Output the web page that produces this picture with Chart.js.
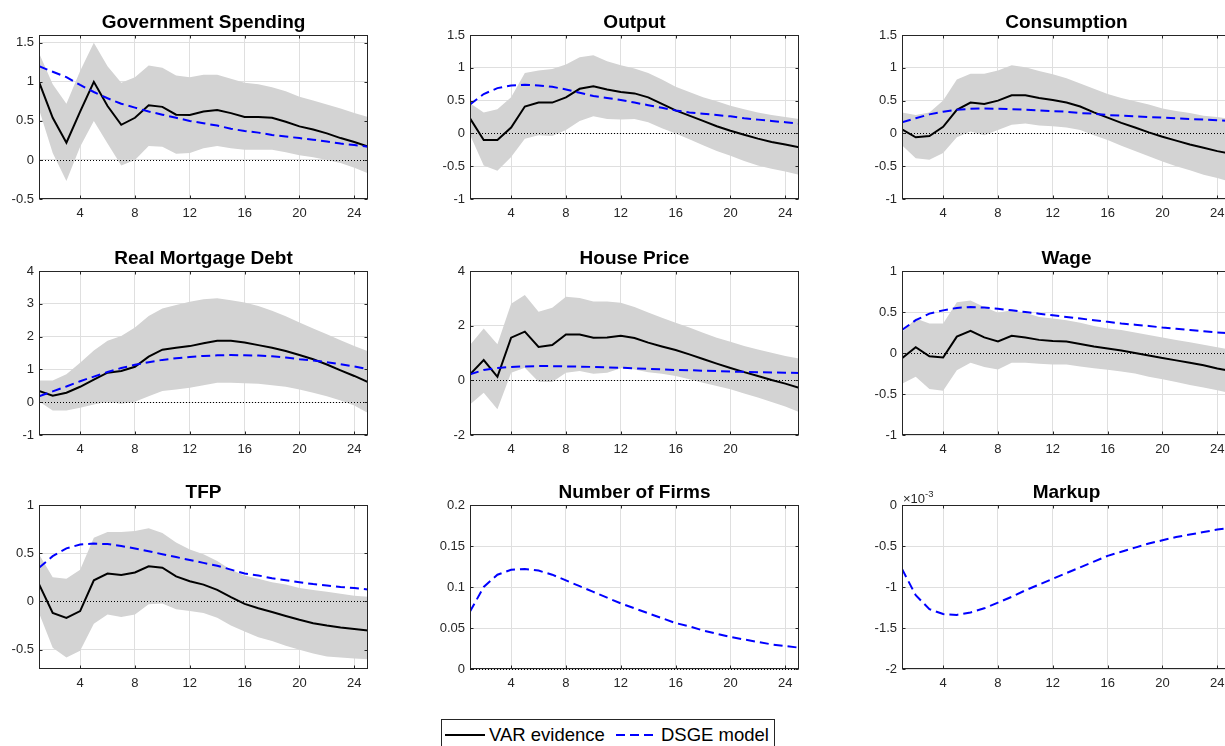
<!DOCTYPE html>
<html>
<head>
<meta charset="utf-8">
<script src="https://cdn.jsdelivr.net/npm/chart.js@4.4.1/dist/chart.umd.min.js"></script>
<style>
html,body{margin:0;padding:0;background:#fff;overflow:hidden;width:1225px;height:746px;position:relative;}
canvas{position:absolute;}
.lg{position:absolute;font-family:'Liberation Sans',Arial,Helvetica,sans-serif;font-size:18.5px;color:#000;line-height:22px;white-space:nowrap;}
#legbox{position:absolute;left:441px;top:719px;width:332px;height:40px;border:1px solid #262626;background:#fff;}
svg{position:absolute;}
</style>
</head>
<body>
<div id="legbox"></div>
<svg style="left:440px;top:725px" width="340" height="20">
  <line x1="5" y1="10" x2="45" y2="10" stroke="#000" stroke-width="2"/>
  <line x1="176" y1="10" x2="217" y2="10" stroke="#0000ff" stroke-width="2" stroke-dasharray="9,5"/>
</svg>
<div class="lg" style="left:489px;top:724px">VAR evidence</div>
<div class="lg" style="left:661px;top:724px">DSGE model</div>
<script>
// ---------- DATA ----------
const horizons = [1,2,3,4,5,6,7,8,9,10,11,12,13,14,15,16,17,18,19,20,21,22,23,24,25];
const xTicksStd = [4,8,12,16,20,24];
const xTicksHouse = [4,8,12,16,20];

const govVAR  = [1.0,0.54,0.22,0.62,1.0,0.69,0.45,0.54,0.70,0.68,0.58,0.575,0.62,0.64,0.60,0.55,0.55,0.54,0.49,0.43,0.39,0.34,0.28,0.23,0.17];
const govUp   = [1.37,0.97,0.72,1.14,1.5,1.2,0.99,1.06,1.21,1.18,1.08,1.06,1.09,1.09,1.04,0.99,0.97,0.93,0.88,0.81,0.76,0.71,0.66,0.60,0.55];
const govLo   = [0.65,0.09,-0.27,0.17,0.5,0.21,-0.07,0.0,0.18,0.17,0.08,0.09,0.15,0.18,0.15,0.13,0.13,0.13,0.10,0.06,0.035,0.0,-0.04,-0.10,-0.17];
const govDSGE = [1.2,1.13,1.06,0.96,0.87,0.79,0.72,0.67,0.62,0.58,0.54,0.50,0.47,0.44,0.40,0.37,0.35,0.32,0.30,0.28,0.26,0.235,0.21,0.19,0.17];
const govYTicks = [-0.5,0,0.5,1,1.5];

const outVAR  = [0.23,-0.10,-0.10,0.09,0.41,0.47,0.47,0.55,0.68,0.72,0.67,0.63,0.61,0.55,0.45,0.35,0.27,0.19,0.11,0.04,-0.02,-0.08,-0.13,-0.17,-0.21];
const outUp   = [0.46,0.32,0.37,0.55,0.92,0.96,0.98,1.05,1.16,1.19,1.10,1.04,0.99,0.92,0.82,0.71,0.63,0.55,0.49,0.42,0.37,0.32,0.28,0.25,0.22];
const outLo   = [-0.02,-0.49,-0.57,-0.36,-0.08,-0.03,-0.04,0.05,0.19,0.26,0.22,0.21,0.22,0.17,0.08,0.0,-0.09,-0.18,-0.27,-0.34,-0.42,-0.49,-0.54,-0.58,-0.63];
const outDSGE = [0.44,0.60,0.69,0.73,0.74,0.73,0.71,0.67,0.62,0.57,0.54,0.51,0.47,0.43,0.39,0.35,0.32,0.30,0.28,0.26,0.23,0.21,0.19,0.17,0.15];
const outYTicks = [-1,-0.5,0,0.5,1,1.5];

const conVAR  = [0.06,-0.06,-0.04,0.10,0.36,0.47,0.45,0.50,0.58,0.58,0.54,0.51,0.47,0.41,0.32,0.24,0.16,0.09,0.015,-0.05,-0.11,-0.17,-0.22,-0.27,-0.31];
const conUp   = [0.32,0.28,0.32,0.50,0.82,0.91,0.91,0.96,1.04,1.01,0.95,0.90,0.84,0.76,0.68,0.60,0.54,0.49,0.44,0.38,0.34,0.31,0.27,0.25,0.22];
const conLo   = [-0.18,-0.38,-0.40,-0.30,-0.06,0.03,-0.03,0.05,0.13,0.15,0.12,0.11,0.09,0.05,-0.03,-0.10,-0.19,-0.27,-0.35,-0.43,-0.50,-0.56,-0.63,-0.68,-0.74];
const conDSGE = [0.17,0.23,0.29,0.33,0.36,0.375,0.38,0.375,0.37,0.36,0.35,0.34,0.33,0.31,0.30,0.28,0.27,0.26,0.25,0.24,0.23,0.22,0.21,0.20,0.19];
const conYTicks = [-1,-0.5,0,0.5,1,1.5];

const rmdVAR  = [0.34,0.20,0.29,0.47,0.69,0.90,0.95,1.08,1.39,1.60,1.66,1.71,1.80,1.87,1.87,1.82,1.74,1.66,1.56,1.44,1.31,1.15,0.97,0.80,0.61];
const rmdUp   = [0.66,0.66,0.85,1.20,1.58,1.87,2.02,2.28,2.63,2.86,2.96,3.06,3.14,3.17,3.11,3.04,2.93,2.79,2.62,2.43,2.25,2.07,1.89,1.71,1.55];
const rmdLo   = [0.02,-0.25,-0.25,-0.17,-0.07,0.01,-0.05,0.01,0.18,0.34,0.39,0.44,0.52,0.59,0.59,0.58,0.56,0.52,0.47,0.39,0.29,0.18,0.05,-0.10,-0.33];
const rmdDSGE = [0.18,0.33,0.48,0.64,0.78,0.92,1.04,1.14,1.22,1.29,1.34,1.38,1.41,1.43,1.44,1.43,1.42,1.40,1.36,1.31,1.27,1.22,1.16,1.09,1.01];
const rmdYTicks = [-1,0,1,2,3,4];

const hpVAR   = [0.22,0.74,0.13,1.56,1.78,1.22,1.29,1.68,1.68,1.56,1.57,1.63,1.55,1.38,1.24,1.11,0.95,0.78,0.61,0.45,0.30,0.16,0.01,-0.12,-0.27];
const hpUp    = [1.29,1.90,1.32,2.80,3.12,2.51,2.66,3.06,3.01,2.88,2.88,2.84,2.68,2.48,2.29,2.11,1.93,1.74,1.56,1.41,1.26,1.13,1.01,0.89,0.80];
const hpLo    = [-0.88,-0.45,-1.06,0.28,0.46,-0.05,-0.06,0.28,0.34,0.24,0.28,0.44,0.40,0.30,0.24,0.16,0.04,-0.09,-0.21,-0.33,-0.48,-0.63,-0.79,-0.96,-1.16];
const hpDSGE  = [0.22,0.38,0.45,0.49,0.51,0.52,0.52,0.51,0.50,0.49,0.47,0.46,0.44,0.42,0.40,0.38,0.37,0.35,0.34,0.32,0.31,0.30,0.29,0.28,0.27];
const hpYTicks = [-2,0,2,4];

const wVAR    = [-0.065,0.07,-0.04,-0.055,0.20,0.27,0.19,0.14,0.21,0.19,0.16,0.145,0.14,0.11,0.08,0.055,0.03,0.0,-0.03,-0.06,-0.09,-0.12,-0.15,-0.19,-0.22];
const wUp     = [0.25,0.42,0.36,0.36,0.62,0.64,0.56,0.49,0.52,0.49,0.44,0.42,0.40,0.37,0.33,0.30,0.28,0.25,0.22,0.19,0.16,0.13,0.10,0.07,0.04];
const wLo     = [-0.375,-0.29,-0.44,-0.46,-0.21,-0.12,-0.17,-0.20,-0.12,-0.12,-0.13,-0.14,-0.14,-0.165,-0.185,-0.205,-0.225,-0.25,-0.29,-0.32,-0.355,-0.39,-0.42,-0.455,-0.49];
const wDSGE   = [0.28,0.40,0.48,0.52,0.55,0.56,0.555,0.54,0.52,0.50,0.48,0.46,0.44,0.42,0.40,0.38,0.36,0.345,0.33,0.31,0.295,0.28,0.265,0.25,0.24];
const wYTicks = [-1,-0.5,0,0.5,1];

const tfpVAR  = [0.18,-0.12,-0.17,-0.10,0.22,0.29,0.275,0.30,0.365,0.35,0.26,0.21,0.175,0.12,0.045,-0.025,-0.07,-0.11,-0.15,-0.19,-0.225,-0.25,-0.27,-0.285,-0.30];
const tfpUp   = [0.49,0.25,0.235,0.33,0.66,0.72,0.72,0.73,0.76,0.71,0.61,0.54,0.49,0.42,0.33,0.27,0.235,0.20,0.175,0.14,0.12,0.10,0.08,0.06,0.05];
const tfpLo   = [-0.12,-0.48,-0.58,-0.51,-0.23,-0.135,-0.16,-0.135,-0.03,-0.02,-0.08,-0.10,-0.12,-0.17,-0.25,-0.31,-0.37,-0.41,-0.46,-0.50,-0.54,-0.57,-0.58,-0.59,-0.60];
const tfpDSGE = [0.35,0.47,0.55,0.59,0.60,0.595,0.575,0.55,0.52,0.49,0.46,0.43,0.40,0.37,0.33,0.29,0.27,0.24,0.22,0.20,0.18,0.165,0.15,0.14,0.125];
const tfpYTicks = [-0.5,0,0.5,1];

const firmsDSGE = [0.070,0.100,0.115,0.121,0.122,0.120,0.115,0.108,0.101,0.094,0.087,0.080,0.074,0.068,0.062,0.056,0.052,0.047,0.043,0.039,0.036,0.033,0.030,0.028,0.026];
const firmsYTicks = [0,0.05,0.1,0.15,0.2];

// Markup values expressed in units of 10^-3
const markupDSGE = [-0.78,-1.10,-1.27,-1.33,-1.34,-1.31,-1.26,-1.19,-1.12,-1.04,-0.97,-0.90,-0.83,-0.76,-0.69,-0.62,-0.57,-0.52,-0.47,-0.43,-0.39,-0.36,-0.33,-0.30,-0.28];
const markupYTicks = [-2,-1.5,-1,-0.5,0];

// ---------- STYLE / LAYOUT ----------
const FONT = "'Liberation Sans', Arial, Helvetica, sans-serif";
const AXIS_COLOR = '#262626';
const GRID_COLOR = '#dfdfdf';
const BAND_COLOR = '#d3d3d3';
const colLeft = [39, 470, 902];
const rowTop = [35, 271, 505];
const PW = 329, PH = 164;
const YW = 40, TOPH = 30, XH = 25, PADR = 6;

const panels = [
  {title:'Government Spending', up:govUp, lo:govLo, v:govVAR, d:govDSGE, yMin:-0.5, yMax:1.6, yTicks:govYTicks, xTicks:xTicksStd},
  {title:'Output', up:outUp, lo:outLo, v:outVAR, d:outDSGE, yMin:-1, yMax:1.5, yTicks:outYTicks, xTicks:xTicksStd},
  {title:'Consumption', up:conUp, lo:conLo, v:conVAR, d:conDSGE, yMin:-1, yMax:1.5, yTicks:conYTicks, xTicks:xTicksStd},
  {title:'Real Mortgage Debt', up:rmdUp, lo:rmdLo, v:rmdVAR, d:rmdDSGE, yMin:-1, yMax:4, yTicks:rmdYTicks, xTicks:xTicksStd},
  {title:'House Price', up:hpUp, lo:hpLo, v:hpVAR, d:hpDSGE, yMin:-2, yMax:4, yTicks:hpYTicks, xTicks:xTicksHouse},
  {title:'Wage', up:wUp, lo:wLo, v:wVAR, d:wDSGE, yMin:-1, yMax:1, yTicks:wYTicks, xTicks:xTicksStd},
  {title:'TFP', up:tfpUp, lo:tfpLo, v:tfpVAR, d:tfpDSGE, yMin:-0.7, yMax:1, yTicks:tfpYTicks, xTicks:xTicksStd},
  {title:'Number of Firms', d:firmsDSGE, yMin:0, yMax:0.2, yTicks:firmsYTicks, xTicks:xTicksStd},
  {title:'Markup', d:markupDSGE, yMin:-2, yMax:0, yTicks:markupYTicks, xTicks:xTicksStd, exponent:'-3'}
];

// ---------- PLUGIN: MATLAB-like axes ----------
function drawZero(chart){
  const {ctx, chartArea:a, scales:{y}} = chart;
  const py = Math.round(y.getPixelForValue(0)) + 0.5;
  ctx.save();
  ctx.strokeStyle = '#000';
  ctx.lineWidth = 1;
  ctx.setLineDash([1,2]);
  ctx.beginPath();
  ctx.moveTo(a.left, py); ctx.lineTo(a.right, py);
  ctx.stroke();
  ctx.restore();
}
const matlabAxes = {
  id: 'matlabAxes',
  afterLayout(chart){
    // centre the title over the plot area (as MATLAB does)
    const tb = chart.titleBlock;
    if (tb) { tb.left = chart.chartArea.left; tb.right = chart.chartArea.right; }
  },
  beforeDatasetDraw(chart, args, opts){
    if (args.index === opts.zeroBefore) drawZero(chart);
  },
  afterDatasetsDraw(chart, args, opts){
    const {ctx, chartArea:a, scales:{x, y}} = chart;
    ctx.save();
    ctx.strokeStyle = AXIS_COLOR;
    ctx.lineWidth = 1;
    ctx.setLineDash([]);
    const L = a.left + 0.5, R = a.right - 0.5, T = a.top + 0.5, B = a.bottom - 0.5;
    ctx.strokeRect(L, T, R - L, B - T);
    const tl = 3;
    ctx.beginPath();
    x.ticks.forEach(t => {
      const px = Math.round(x.getPixelForValue(t.value)) + 0.5;
      ctx.moveTo(px, B); ctx.lineTo(px, B - tl);
      ctx.moveTo(px, T); ctx.lineTo(px, T + tl);
    });
    y.ticks.forEach(t => {
      const py = Math.round(y.getPixelForValue(t.value)) + 0.5;
      ctx.moveTo(L, py); ctx.lineTo(L + tl, py);
      ctx.moveTo(R, py); ctx.lineTo(R - tl, py);
    });
    ctx.stroke();
    if (opts.exponent) {
      ctx.fillStyle = AXIS_COLOR;
      ctx.textBaseline = 'alphabetic';
      ctx.textAlign = 'left';
      ctx.font = '13px ' + FONT;
      const base = '\u00d710';
      ctx.fillText(base, a.left + 1, a.top - 2);
      const w = ctx.measureText(base).width;
      ctx.font = '9.5px ' + FONT;
      ctx.fillText(opts.exponent, a.left + 1 + w, a.top - 8);
    }
    ctx.restore();
  }
};
Chart.register(matlabAxes);

function pts(arr){ return horizons.map((h, k) => ({x: h, y: arr[k]})); }

panels.forEach((p, i) => {
  const L = colLeft[i % 3], T = rowTop[Math.floor(i / 3)];
  const cv = document.createElement('canvas');
  cv.width = YW + PW + PADR; cv.height = TOPH + PH + XH;
  cv.style.left = (L - YW) + 'px'; cv.style.top = (T - TOPH) + 'px';
  cv.style.width = cv.width + 'px'; cv.style.height = cv.height + 'px';
  document.body.appendChild(cv);

  // Chart.js draws datasets from last to first: put the band at the end so it is painted first.
  const ds = [];
  ds.push({data: pts(p.d), borderColor:'#0000ff', borderWidth:2, borderDash:[9,5], pointRadius:0, fill:false, tension:0});
  if (p.up) {
    ds.push({data: pts(p.v), borderColor:'#000', borderWidth:2, pointRadius:0, fill:false, tension:0});
    ds.push({data: pts(p.up), borderColor:'rgba(0,0,0,0)', borderWidth:1, pointRadius:0, fill:'+1', backgroundColor:BAND_COLOR});
    ds.push({data: pts(p.lo), borderColor:'rgba(0,0,0,0)', borderWidth:1, pointRadius:0, fill:false});
  }

  const tickFont = {family: FONT, size: 13};
  new Chart(cv, {
    type: 'line',
    data: {datasets: ds},
    options: {
      responsive: false, animation: false, devicePixelRatio: 1,
      layout: {padding: {top: 7, right: PADR, left: 0, bottom: 0}},
      plugins: {
        legend: {display: false}, tooltip: {enabled: false},
        title: {display: true, text: p.title, color: '#000',
                font: {family: FONT, size: 19, weight: 'bold', lineHeight: '22px'},
                padding: {top: 0, bottom: 1}},
        matlabAxes: {zeroBefore: p.up ? 1 : 0, exponent: p.exponent}
      },
      scales: {
        x: {type: 'linear', min: 1, max: 25,
            afterBuildTicks: s => { s.ticks = p.xTicks.map(v => ({value: v})); },
            afterFit: s => { s.height = XH; },
            grid: {color: GRID_COLOR, drawTicks: false, lineWidth: 1},
            border: {display: false},
            ticks: {color: AXIS_COLOR, font: tickFont, padding: 7, maxRotation: 0, autoSkip: false, callback: v => String(v)}},
        y: {type: 'linear', min: p.yMin, max: p.yMax,
            afterBuildTicks: s => { s.ticks = p.yTicks.map(v => ({value: v})); },
            afterFit: s => { s.width = YW; },
            grid: {color: GRID_COLOR, drawTicks: false, lineWidth: 1},
            border: {display: false},
            ticks: {color: AXIS_COLOR, font: tickFont, padding: 5, autoSkip: false, callback: v => String(v)}}
      }
    }
  });
});
</script>
</body>
</html>
